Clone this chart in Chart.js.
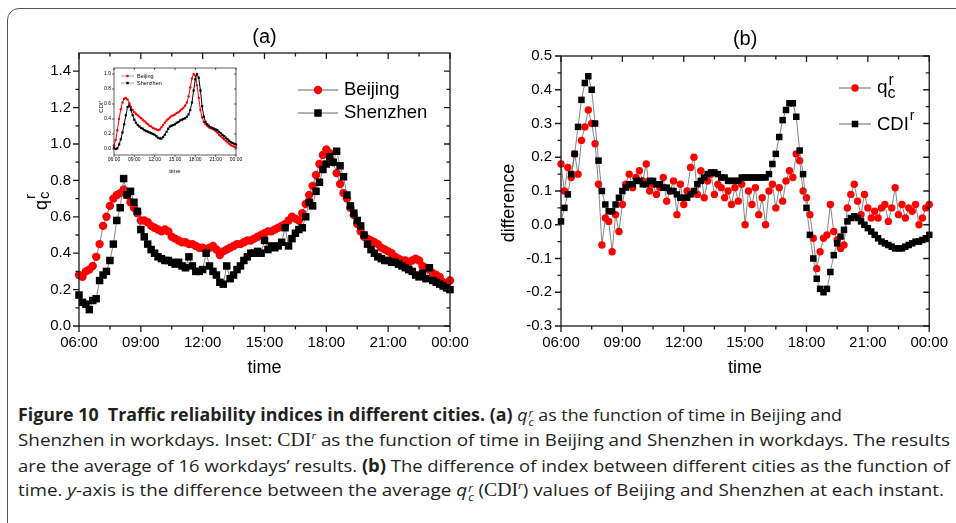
<!DOCTYPE html>
<html>
<head>
<meta charset="utf-8">
<title>Figure 10</title>
<script src="https://cdn.jsdelivr.net/npm/chart.js@4.4.1/dist/chart.umd.min.js"></script>
<style>
    html, body { margin: 0; padding: 0; background: #fff; }
    body { position: relative; width: 956px; height: 523px; overflow: hidden; }
    #frame { position: absolute; left: 7px; top: 8px; width: 1100px; height: 700px; border: 1.5px solid #555; border-radius: 12px; }
    canvas { position: absolute; }
    #chartA { left: 0; top: 0; }
    #chartB { left: 480px; top: 0; }
    #inset { left: 90px; top: 62px; }
    .cap { position: absolute; left: 18px; width: max-content; white-space: nowrap; font: 17px/22px "Open Sans", sans-serif; color: #231f20; transform-origin: 0 0; }
    .serif { font-family: "Liberation Serif", serif; font-size: 1.05em; }
    .serif sup { font-size: 0.6em; line-height: 0; }
    .ss { display: inline-block; font-size: 0.64em; line-height: 0.8em; vertical-align: -0.45em; font-style: italic; margin-left: 1px; }
</style>
</head>
<body>
<div id="frame"></div>
<canvas id="chartA" width="480" height="392"></canvas>
<canvas id="chartB" width="476" height="392"></canvas>
<canvas id="inset" width="155" height="115"></canvas>

<div class="cap" data-w="824" style="top:404px"><b>Figure 10&nbsp; Traffic reliability indices in different cities. (a)</b> <i>q</i><span class="ss">r<br>c</span> as the function of time in Beijing and</div>
<div class="cap" data-w="932" style="top:429px">Shenzhen in workdays. Inset: <span class="serif">CDI<sup><i>r</i></sup></span> as the function of time in Beijing and Shenzhen in workdays. The results</div>
<div class="cap" data-w="932" style="top:455px">are the average of 16 workdays’ results. <b>(b)</b> The difference of index between different cities as the function of</div>
<div class="cap" data-w="926" style="top:479px">time. <i>y</i>-axis is the difference between the average <i>q</i><span class="ss">r<br>c</span> (<span class="serif">CDI<sup><i>r</i></sup></span>) values of Beijing and Shenzhen at each instant.</div>

<script>
'use strict'

Chart.defaults.font.family = "'Liberation Sans', Arial, sans-serif";
Chart.defaults.color = "#000";

const tickHours = [6, 9, 12, 15, 18, 21, 24];
const tickLabels = ["06:00", "09:00", "12:00", "15:00", "18:00", "21:00", "00:00"];
const minorHours = [7.5, 10.5, 13.5, 16.5, 19.5, 22.5];

// panel (a): q_c^r, one sample every 10 minutes from 06:00
const qBeijing = [
    0.28, 0.27, 0.30, 0.31, 0.33, 0.38,
    0.45, 0.55, 0.60, 0.66, 0.70, 0.72,
    0.73, 0.75, 0.72, 0.68, 0.65, 0.62,
    0.58, 0.58, 0.57, 0.55, 0.54, 0.53,
    0.52, 0.53, 0.52, 0.49, 0.48, 0.47,
    0.46, 0.46, 0.45, 0.45, 0.44, 0.43,
    0.43, 0.42, 0.43, 0.44, 0.42, 0.39,
    0.41, 0.42, 0.43, 0.44, 0.45, 0.45,
    0.46, 0.47, 0.47, 0.48, 0.49, 0.50,
    0.51, 0.52, 0.52, 0.53, 0.54, 0.55,
    0.56, 0.58, 0.60, 0.59, 0.58, 0.62,
    0.67, 0.72, 0.77, 0.83, 0.89, 0.94,
    0.97, 0.95, 0.90, 0.84, 0.78, 0.73,
    0.70, 0.65, 0.61, 0.56, 0.52, 0.49,
    0.48, 0.47, 0.46, 0.45, 0.43, 0.42,
    0.41, 0.40, 0.38, 0.37, 0.36, 0.36,
    0.35, 0.36, 0.37, 0.36, 0.33, 0.32,
    0.31, 0.29, 0.28, 0.27, 0.24, 0.21,
    0.25
];
const qShenzhen = [
    0.17, 0.13, 0.12, 0.09, 0.14, 0.15,
    0.25, 0.28, 0.30, 0.36, 0.45, 0.58,
    0.65, 0.81, 0.72, 0.74, 0.68, 0.63,
    0.53, 0.49, 0.45, 0.42, 0.40, 0.38,
    0.37, 0.36, 0.36, 0.35, 0.34, 0.35,
    0.33, 0.32, 0.38, 0.33, 0.30, 0.30,
    0.31, 0.40, 0.33, 0.30, 0.28, 0.24,
    0.23, 0.33, 0.26, 0.28, 0.31, 0.33,
    0.36, 0.38, 0.40, 0.40, 0.41, 0.40,
    0.47, 0.42, 0.44, 0.43, 0.44, 0.46,
    0.54, 0.44, 0.48, 0.51, 0.53, 0.54,
    0.60, 0.68, 0.66, 0.74, 0.79, 0.86,
    0.89, 0.93, 0.90, 0.96, 0.88, 0.82,
    0.72, 0.66, 0.62, 0.58, 0.55, 0.50,
    0.45, 0.42, 0.40, 0.38, 0.37, 0.36,
    0.36, 0.35, 0.35, 0.34, 0.33, 0.32,
    0.31, 0.30, 0.28, 0.27, 0.29, 0.26,
    0.32, 0.25, 0.24, 0.23, 0.22, 0.21,
    0.20
];

// inset: CDI^r, one sample every 15 minutes
const cdiBeijing = [
    0.05, 0.12, 0.25, 0.40,
    0.53, 0.62, 0.67, 0.68,
    0.66, 0.61, 0.56, 0.52,
    0.49, 0.47, 0.45, 0.43,
    0.41, 0.39, 0.37, 0.35,
    0.33, 0.31, 0.30, 0.28,
    0.27, 0.26, 0.25, 0.26,
    0.29, 0.32, 0.35, 0.38,
    0.40, 0.42, 0.44, 0.45,
    0.46, 0.48, 0.49, 0.51,
    0.53, 0.55, 0.58, 0.62,
    0.70, 0.82, 0.94, 1.00,
    0.98, 0.85, 0.68, 0.52,
    0.42, 0.36, 0.33, 0.31,
    0.29, 0.28, 0.27, 0.26,
    0.24, 0.22, 0.19, 0.17,
    0.15, 0.13, 0.11, 0.09,
    0.07, 0.05, 0.04, 0.03,
    0.02
];
const cdiShenzhen = [
    0.02, 0.00, 0.01, 0.06,
    0.13, 0.22, 0.33, 0.45,
    0.56, 0.58, 0.52, 0.45,
    0.39, 0.35, 0.32, 0.30,
    0.28, 0.27, 0.25, 0.24,
    0.23, 0.22, 0.21, 0.20,
    0.19, 0.17, 0.15, 0.14,
    0.14, 0.16, 0.19, 0.23,
    0.27, 0.30, 0.31, 0.32,
    0.33, 0.35, 0.36, 0.38,
    0.39, 0.40, 0.41, 0.43,
    0.46, 0.52, 0.62, 0.78,
    0.93, 1.00, 0.95, 0.78,
    0.57, 0.43, 0.36, 0.33,
    0.31, 0.29, 0.28, 0.27,
    0.26, 0.25, 0.23, 0.21,
    0.19, 0.17, 0.15, 0.13,
    0.11, 0.09, 0.08, 0.07,
    0.06
];

// panel (b): Beijing minus Shenzhen, every 10 minutes
const diffQ = [
    0.18, 0.10, 0.17, 0.14, 0.21, 0.15,
    0.25, 0.29, 0.34, 0.30, 0.24, 0.12,
    -0.06, 0.02, 0.01, -0.08, 0.03, -0.02,
    0.06, 0.12, 0.15, 0.11, 0.14, 0.16,
    0.13, 0.18, 0.10, 0.12, 0.09, 0.11,
    0.14, 0.07, 0.10, 0.13, 0.03, 0.12,
    0.06, 0.10, 0.17, 0.20, 0.09, 0.16,
    0.08, 0.13, 0.15, 0.09, 0.12, 0.11,
    0.08, 0.10, 0.06, 0.11, 0.07, 0.12,
    0.00, 0.10, 0.06, 0.11, 0.03, 0.08,
    0.00, 0.10, 0.12, 0.05, 0.11, 0.07,
    0.13, 0.16, 0.14, 0.21, 0.19, 0.10,
    0.08, 0.03, -0.04, -0.13, -0.08, -0.04,
    -0.03, 0.06, -0.02, -0.045, -0.07, -0.06,
    0.05, 0.09, 0.12, 0.07, 0.03, 0.09,
    0.05, 0.02, 0.04, 0.02, 0.05, 0.06,
    0.01, 0.05, 0.11, 0.03, 0.06, 0.02,
    0.05, 0.04, 0.06, 0.00, 0.02, 0.05,
    0.06
];
const diffCDI = [
    0.01, 0.05, 0.09, 0.15, 0.21, 0.29,
    0.37, 0.42, 0.44, 0.40, 0.30, 0.19,
    0.10, 0.06, 0.04, 0.04, 0.06, 0.08,
    0.10, 0.11, 0.12, 0.12, 0.13, 0.13,
    0.12, 0.12, 0.13, 0.13, 0.12, 0.12,
    0.11, 0.11, 0.10, 0.10, 0.09, 0.08,
    0.08, 0.08, 0.09, 0.10, 0.12, 0.13,
    0.14, 0.15, 0.155, 0.155, 0.15, 0.14,
    0.14, 0.13, 0.13, 0.13, 0.13, 0.14,
    0.14, 0.14, 0.14, 0.14, 0.14, 0.14,
    0.14, 0.15, 0.18, 0.21, 0.26, 0.31,
    0.34, 0.36, 0.36, 0.32, 0.22, 0.15,
    0.05, -0.03, -0.10, -0.16, -0.19, -0.20,
    -0.19, -0.14, -0.09, -0.055, -0.035, -0.015,
    0.01, 0.02, 0.025, 0.02, 0.01, 0.00,
    -0.01, -0.02, -0.03, -0.04, -0.05, -0.055,
    -0.06, -0.065, -0.07, -0.07, -0.07, -0.065,
    -0.06, -0.055, -0.05, -0.05, -0.045, -0.04,
    -0.03
];

const yTicksA = [0, 0.2, 0.4, 0.6, 0.8, 1.0, 1.2, 1.4];
const yMinorA = [0.1, 0.3, 0.5, 0.7, 0.9, 1.1, 1.3];
const yTicksB = [-0.3, -0.2, -0.1, 0, 0.1, 0.2, 0.3, 0.4, 0.5];
const yMinorB = [-0.25, -0.15, -0.05, 0.05, 0.15, 0.25, 0.35, 0.45];
const yTicksInset = [0, 0.2, 0.4, 0.6, 0.8, 1.0];

function series(values, minutes) {
    return values.map((v, i) => ({ x: 6 + i * minutes / 60, y: v }));
}

function dots(values, minutes, style, color, r, lineColor, lineWidth, order) {
    return {
        data: series(values, minutes),
        borderColor: lineColor,
        borderWidth: lineWidth,
        pointStyle: style,
        pointRadius: r,
        pointBackgroundColor: color,
        pointBorderColor: color,
        pointBorderWidth: 0,
        tension: 0,
        clip: false,
        order: order
    };
}

function drawMarker(ctx, style, x, y, r, color) {
    ctx.fillStyle = color;
    if (style === "circle") {
        ctx.beginPath();
        ctx.arc(x, y, r, 0, Math.PI * 2);
        ctx.fill();
    } else {
        const s = r * Math.SQRT1_2;
        ctx.fillRect(x - s, y - s, 2 * s, 2 * s);
    }
}

function legendRow(ctx, x1, x2, y, style, r, color, lw) {
    ctx.strokeStyle = "#666";
    ctx.lineWidth = lw;
    ctx.beginPath();
    ctx.moveTo(x1, y);
    ctx.lineTo(x2, y);
    ctx.stroke();
    drawMarker(ctx, style, (x1 + x2) / 2, y, r, color);
}

function framePlugin(o) {
    return {
        id: "frame",
        afterDraw(chart) {
            const ctx = chart.ctx, a = chart.chartArea;
            const x = chart.scales.x, y = chart.scales.y;
            ctx.save();
            ctx.strokeStyle = "#1a1a1a";
            ctx.lineWidth = o.axisWidth;
            ctx.strokeRect(a.left, a.top, a.right - a.left, a.bottom - a.top);
            ctx.beginPath();
            const xMarks = (vals, len) => vals.forEach(v => {
                const px = x.getPixelForValue(v);
                ctx.moveTo(px, a.bottom); ctx.lineTo(px, a.bottom + len);
                ctx.moveTo(px, a.top); ctx.lineTo(px, a.top + len);
            });
            const yMarks = (vals, len) => vals.forEach(v => {
                const py = y.getPixelForValue(v);
                ctx.moveTo(a.left - len, py); ctx.lineTo(a.left, py);
                ctx.moveTo(a.right - len, py); ctx.lineTo(a.right, py);
            });
            xMarks(tickHours, o.tickLen[0]);
            xMarks(o.xMinor, o.tickLen[1]);
            yMarks(o.yTicks, o.tickLen[0]);
            yMarks(o.yMinor, o.tickLen[1]);
            ctx.stroke();
            ctx.fillStyle = "#000";
            if (o.decorate) o.decorate(ctx, a);
            ctx.restore();
        }
    };
}

function makeChart(id, datasets, o) {
    return new Chart(document.getElementById(id), {
        type: "line",
        data: { datasets: datasets },
        options: {
            responsive: false,
            animation: false,
            devicePixelRatio: 1,
            layout: { padding: o.padding },
            plugins: { legend: { display: false }, tooltip: { enabled: false } },
            scales: {
                x: {
                    type: "linear", min: 6, max: 24,
                    grid: { display: false, drawTicks: false }, border: { display: false },
                    afterBuildTicks: s => { s.ticks = tickHours.map(v => ({ value: v })); },
                    afterFit: s => { s.height = o.xHeight; },
                    ticks: { callback: (v, i) => tickLabels[i], font: { size: o.fontSize }, padding: o.xPad, maxRotation: 0, autoSkip: false }
                },
                y: {
                    type: "linear", min: o.yMin, max: o.yMax,
                    grid: { display: false, drawTicks: false }, border: { display: false },
                    afterBuildTicks: s => { s.ticks = o.yTicks.map(v => ({ value: v })); },
                    afterFit: s => { s.width = o.yWidth; },
                    ticks: { callback: v => v.toFixed(1), font: { size: o.fontSize }, padding: o.yPad }
                }
            }
        },
        plugins: [framePlugin(o)]
    });
}

const FONT = "'Liberation Sans', Arial, sans-serif";

// (a)
makeChart("chartA", [
    dots(qShenzhen, 10, "rect", "#000", 5.3, "#666", 0.8, 0),
    dots(qBeijing, 10, "circle", "#ff0000", 4.2, "#666", 0.8, 1)
], {
    padding: { left: 39, top: 53, right: 30, bottom: 26 },
    yWidth: 40, xHeight: 40, fontSize: 15, xPad: 8, yPad: 8,
    yMin: 0, yMax: 1.5, yTicks: yTicksA, yMinor: yMinorA, xMinor: minorHours,
    axisWidth: 1.3, tickLen: [6, 3.5],
    decorate(ctx, a) {
        const cx = (a.left + a.right) / 2;
        ctx.textAlign = "center";
        ctx.textBaseline = "middle";
        ctx.font = "20px " + FONT;
        ctx.fillText("(a)", cx, 37);
        ctx.font = "18px " + FONT;
        ctx.fillText("time", cx, 368);

        // y title q_c^r
        ctx.save();
        ctx.translate(47, 210);
        ctx.rotate(-Math.PI / 2);
        ctx.textAlign = "left";
        ctx.textBaseline = "alphabetic";
        ctx.font = "18px " + FONT;
        ctx.fillText("q", 0, 0);
        const qw = ctx.measureText("q").width;
        ctx.font = "15px " + FONT;
        ctx.fillText("c", qw + 1, 2);
        ctx.fillText("r", qw + 1, -12);
        ctx.restore();

        legendRow(ctx, 298, 338, 90, "circle", 4.2, "#ff0000", 1);
        legendRow(ctx, 298, 338, 113, "rect", 5.3, "#000", 1);
        ctx.fillStyle = "#000";
        ctx.textAlign = "left";
        ctx.textBaseline = "middle";
        ctx.font = "18.5px " + FONT;
        ctx.fillText("Beijing", 344, 90);
        ctx.fillText("Shenzhen", 344, 113);
    }
});

// (b)
makeChart("chartB", [
    dots(diffCDI, 10, "rect", "#000", 4.6, "#666", 0.8, 0),
    dots(diffQ, 10, "circle", "#ff0000", 3.7, "#666", 0.8, 1)
], {
    padding: { left: 41, top: 56, right: 26, bottom: 26 },
    yWidth: 40, xHeight: 40, fontSize: 15, xPad: 8, yPad: 9,
    yMin: -0.3, yMax: 0.5, yTicks: yTicksB, yMinor: yMinorB, xMinor: minorHours,
    axisWidth: 1.3, tickLen: [6, 3.5],
    decorate(ctx, a) {
        const cx = (a.left + a.right) / 2;
        ctx.textAlign = "center";
        ctx.textBaseline = "middle";
        ctx.font = "20px " + FONT;
        ctx.fillText("(b)", cx, 39);
        ctx.font = "18px " + FONT;
        ctx.fillText("time", cx, 368);

        ctx.save();
        ctx.translate(29, 203);
        ctx.rotate(-Math.PI / 2);
        ctx.fillText("difference", 0, 0);
        ctx.restore();

        legendRow(ctx, 359, 391, 88, "circle", 3.7, "#ff0000", 1);
        legendRow(ctx, 359, 391, 124, "rect", 4.6, "#000", 1);
        ctx.fillStyle = "#000";
        ctx.textAlign = "left";
        ctx.textBaseline = "alphabetic";
        ctx.font = "19px " + FONT;
        ctx.fillText("q", 397, 93);
        const qw = ctx.measureText("q").width;
        ctx.font = "16px " + FONT;
        ctx.fillText("c", 397 + qw, 98);
        ctx.fillText("r", 398 + qw, 85);
        ctx.font = "18.5px " + FONT;
        ctx.fillText("CDI", 397, 130);
        const cw = ctx.measureText("CDI").width;
        ctx.font = "14px " + FONT;
        ctx.fillText("r", 398 + cw, 120);
    }
});

// inset
makeChart("inset", [
    dots(cdiShenzhen, 15, "rect", "#000", 1.6, "#000", 1, 0),
    dots(cdiBeijing, 15, "circle", "#ff0000", 1.2, "#ff0000", 1, 1)
], {
    padding: { left: 10, top: 6, right: 9, bottom: 10 },
    yWidth: 14, xHeight: 12, fontSize: 5, xPad: 2, yPad: 3,
    yMin: -0.08, yMax: 1.08, yTicks: yTicksInset, yMinor: [], xMinor: [],
    axisWidth: 0.7, tickLen: [2, 0],
    decorate(ctx, a) {
        const cx = (a.left + a.right) / 2;
        ctx.textAlign = "center";
        ctx.textBaseline = "middle";
        ctx.font = "6px " + FONT;
        ctx.fillText("time", cx, 109);

        ctx.save();
        ctx.translate(11.5, 45.5);
        ctx.rotate(-Math.PI / 2);
        ctx.fillText("CDI", 0, 0);
        ctx.font = "4px " + FONT;
        ctx.fillText("r", 6, -2);
        ctx.restore();

        legendRow(ctx, 31, 44, 14, "circle", 1.3, "#ff0000", 0.6);
        legendRow(ctx, 31, 44, 21, "rect", 1.7, "#000", 0.6);
        ctx.fillStyle = "#000";
        ctx.textAlign = "left";
        ctx.font = "5.5px " + FONT;
        ctx.fillText("Beijing", 47, 14);
        ctx.fillText("Shenzhen", 47, 21);
    }
});

function fitCaption() {
    document.querySelectorAll(".cap").forEach(el => {
        el.style.transform = "none";
        const w = el.getBoundingClientRect().width;
        el.style.transform = "scaleX(" + (Number(el.dataset.w) / w) + ")";
    });
}
if (document.fonts && document.fonts.ready) document.fonts.ready.then(fitCaption);
else fitCaption();
</script>
</body>
</html>
